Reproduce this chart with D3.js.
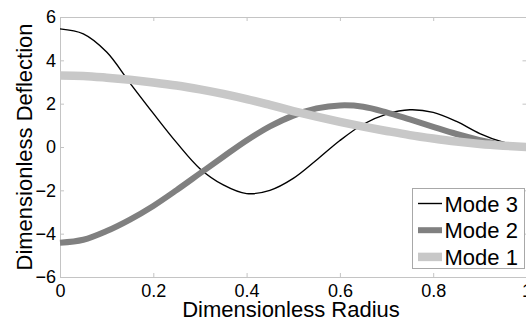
<!DOCTYPE html>
<html>
<head>
<meta charset="utf-8">
<script src="https://cdn.jsdelivr.net/npm/d3@7"></script>
<style>
    body { margin: 0; background: #fff; }
    svg { display: block; font-family: "Liberation Sans", Arial, sans-serif; }
    .axis path, .axis line { stroke: #c4c4c4; }
    .axis text { fill: #000; font-size: 18px; }
</style>
</head>
<body>
<div id="chart"></div>
<script>
/*
*    Mode shapes - dimensionless deflection vs radius
*/

var radius = [0, 0.05, 0.1, 0.15, 0.2, 0.25, 0.3, 0.35, 0.4, 0.45, 0.5,
              0.55, 0.6, 0.65, 0.7, 0.75, 0.8, 0.85, 0.9, 0.95, 1];

var mode3 = [5.45, 5.22, 4.38, 2.95, 1.55, 0.2, -1.0, -1.75, -2.15, -2.0, -1.45,
             -0.6, 0.3, 1.05, 1.52, 1.72, 1.6, 1.18, 0.62, 0.22, 0];
var mode2 = [-4.42, -4.28, -3.88, -3.35, -2.72, -1.99, -1.22, -0.45, 0.3, 0.95, 1.45,
             1.78, 1.92, 1.86, 1.6, 1.27, 0.93, 0.6, 0.32, 0.1, 0];
var mode1 = [3.3, 3.28, 3.2, 3.1, 2.98, 2.84, 2.66, 2.45, 2.21, 1.94, 1.66,
             1.4, 1.16, 0.94, 0.74, 0.55, 0.39, 0.25, 0.14, 0.06, 0];

var seriesNames = ["Mode 3", "Mode 2", "Mode 1"];
var xTicks = [0, 0.2, 0.4, 0.6, 0.8, 1];
var yTicks = [-6, -4, -2, 0, 2, 4, 6];

// draw order = legend order, Mode 1 ends up on top
var series = [
    { name: seriesNames[0], values: mode3, color: "#000000", width: 1.4 },
    { name: seriesNames[1], values: mode2, color: "#808080", width: 6 },
    { name: seriesNames[2], values: mode1, color: "#c8c8c8", width: 8.5 }
];

var vis = {};
vis.margin = { left: 60, right: 0, top: 17, bottom: 44 };
vis.width = 466.5;
vis.height = 260;

vis.svg = d3.select("#chart")
    .append("svg")
    .attr("width", 526)
    .attr("height", 321);

vis.g = vis.svg.append("g")
    .attr("transform", "translate(" + vis.margin.left + "," + vis.margin.top + ")");

vis.x = d3.scaleLinear().domain([0, 1]).range([0, vis.width]);
vis.y = d3.scaleLinear().domain([-6, 6]).range([vis.height, 0]);

// box axes, ticks pointing inward like matlab
vis.g.append("g")
    .attr("class", "axis")
    .attr("transform", "translate(0," + vis.height + ")")
    .call(d3.axisBottom(vis.x).tickValues(xTicks).tickSize(-4).tickPadding(7)
        .tickFormat(d3.format("")));

vis.g.append("g")
    .attr("class", "axis")
    .call(d3.axisTop(vis.x).tickValues(xTicks).tickSize(-4).tickFormat(""));

vis.g.append("g")
    .attr("class", "axis")
    .call(d3.axisLeft(vis.y).tickValues(yTicks).tickSize(-4).tickPadding(4)
        .tickFormat(d3.format("")));

vis.g.append("g")
    .attr("class", "axis")
    .attr("transform", "translate(" + vis.width + ",0)")
    .call(d3.axisRight(vis.y).tickValues(yTicks).tickSize(-4).tickFormat(""));

vis.line = d3.line()
    .x(function (d, i) { return vis.x(radius[i]); })
    .y(function (d) { return vis.y(d); })
    .curve(d3.curveCatmullRom.alpha(0.5));

series.forEach(function (s) {
    vis.g.append("path")
        .datum(s.values)
        .attr("d", vis.line)
        .style("fill", "none")
        .style("stroke", s.color)
        .style("stroke-width", s.width);
});

// axis titles
vis.svg.append("text")
    .attr("x", 291)
    .attr("y", 317)
    .attr("text-anchor", "middle")
    .style("font-size", "22px")
    .text("Dimensionless Radius");

vis.svg.append("text")
    .attr("transform", "translate(32,147) rotate(-90)")
    .attr("text-anchor", "middle")
    .style("font-size", "22px")
    .text("Dimensionless Deflection");

// legend
vis.legend = vis.svg.append("g")
    .attr("transform", "translate(412.5,188.5)");

vis.legend.append("rect")
    .attr("width", 112)
    .attr("height", 80)
    .style("fill", "#fff")
    .style("stroke", "#a8a8a8");

series.forEach(function (s, i) {
    var yy = 15 + i * 26.7;
    vis.legend.append("line")
        .attr("x1", 5.5)
        .attr("x2", 29.5)
        .attr("y1", yy)
        .attr("y2", yy)
        .style("stroke", s.color)
        .style("stroke-width", s.width);
    vis.legend.append("text")
        .attr("x", 32)
        .attr("y", yy + 8)
        .style("font-size", "22px")
        .text(s.name);
});
</script>
</body>
</html>
